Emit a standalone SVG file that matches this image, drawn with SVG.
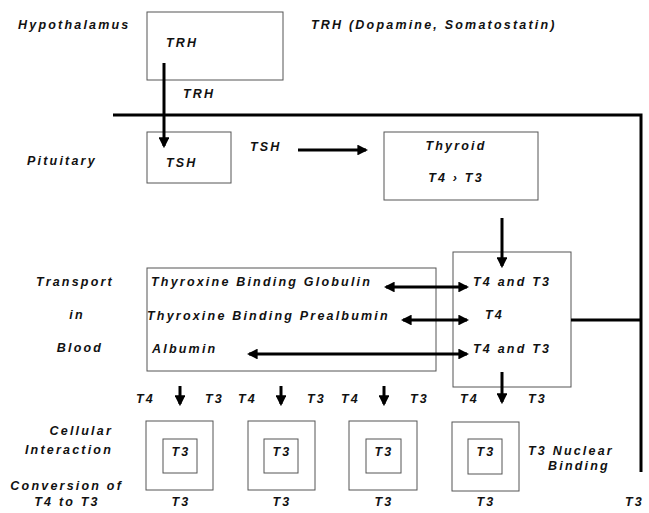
<svg xmlns="http://www.w3.org/2000/svg" width="649" height="513" viewBox="0 0 649 513">
<style>
text{font-family:"Liberation Sans",Arial,sans-serif;font-weight:bold;font-style:italic;font-size:12.5px;letter-spacing:2.2px;fill:#111}
.box{fill:none;stroke:#555;stroke-width:1}
.ln{fill:none;stroke:#000;stroke-width:3}
.ar{fill:none;stroke:#000;stroke-width:3}
.m{text-anchor:middle}
.e{text-anchor:end}
</style>
<defs>
<marker id="ah" viewBox="0 0 10 10" refX="8" refY="5" markerWidth="3.6" markerHeight="3.6" orient="auto-start-reverse"><path d="M0,0L10,5L0,10z" fill="#000"/></marker>
</defs>
<rect width="649" height="513" fill="#fff"/>
<g id="labels">
<text x="18" y="29">Hypothalamus</text>
<text x="311" y="29">TRH (Dopamine, Somatostatin)</text>
<text x="183" y="98">TRH</text>
<text x="27" y="165">Pituitary</text>
<text x="250" y="151">TSH</text>
<text x="75" y="286" class="m">Transport</text>
<text x="77" y="319" class="m">in</text>
<text x="80" y="352" class="m">Blood</text>
<text x="113" y="435" class="e">Cellular</text>
<text x="113" y="454" class="e">Interaction</text>
<text x="123" y="490" class="e">Conversion of</text>
<text x="67" y="506" class="m">T4 to T3</text>
<text x="625" y="506">T3</text>
</g>
<g id="hypothalamus"><rect class="box" x="147" y="12" width="136" height="68"/><text x="166" y="47">TRH</text></g>
<g id="pituitary"><rect class="box" x="147" y="132" width="84" height="51"/><text x="166" y="167">TSH</text></g>
<g id="thyroid"><rect class="box" x="384" y="132" width="154" height="68"/><text x="456" y="150" class="m">Thyroid</text><text x="456" y="182" class="m">T4 › T3</text></g>
<g id="binding"><rect class="box" x="147" y="268" width="289" height="103"/>
<text x="151" y="286">Thyroxine Binding Globulin</text>
<text x="147" y="320">Thyroxine Binding Prealbumin</text>
<text x="152" y="353">Albumin</text></g>
<g id="free"><rect class="box" x="453" y="252" width="118" height="135"/>
<text x="473" y="286">T4 and T3</text>
<text x="485" y="319">T4</text>
<text x="473" y="353">T4 and T3</text></g>
<g id="cell1"><rect class="box" x="146" y="421" width="67" height="69"/><rect class="box" x="163" y="439" width="34" height="34"/><text x="181" y="456" class="m">T3</text></g>
<g id="cell2"><rect class="box" x="248" y="421" width="67" height="69"/><rect class="box" x="264" y="439" width="34" height="34"/><text x="282" y="456" class="m">T3</text></g>
<g id="cell3"><rect class="box" x="349" y="421" width="68" height="69"/><rect class="box" x="366" y="439" width="35" height="34"/><text x="384" y="456" class="m">T3</text></g>
<g id="cell4"><rect class="box" x="452" y="422" width="67" height="69"/><rect class="box" x="468" y="439" width="34" height="35"/><text x="486" y="456" class="m">T3</text>
<text x="528" y="455">T3 Nuclear</text><text x="548" y="470">Binding</text></g>
<g id="rowlabels">
<text x="136" y="403">T4</text><text x="205" y="403">T3</text>
<text x="238" y="403">T4</text><text x="307" y="403">T3</text>
<text x="341" y="403">T4</text><text x="410" y="403">T3</text>
<text x="460" y="403">T4</text><text x="528" y="403">T3</text>
<text x="181" y="506" class="m">T3</text><text x="282" y="506" class="m">T3</text><text x="384" y="506" class="m">T3</text><text x="486" y="506" class="m">T3</text>
</g>
<g id="connectors">
<path class="ar" d="M164 63V146" marker-end="url(#ah)"/>
<path class="ln" d="M113 115H641V472"/>
<path class="ar" d="M298 150H366" marker-end="url(#ah)"/>
<path class="ar" d="M502 218V266" marker-end="url(#ah)"/>
<path class="ar" d="M386 287H467" marker-start="url(#ah)" marker-end="url(#ah)"/>
<path class="ar" d="M403 320H467" marker-start="url(#ah)" marker-end="url(#ah)"/>
<path class="ar" d="M249 354H467" marker-start="url(#ah)" marker-end="url(#ah)"/>
<path class="ln" d="M571 320H641"/>
<path class="ar" d="M502 372V402" marker-end="url(#ah)"/>
<path class="ar" d="M180 386V404" marker-end="url(#ah)"/>
<path class="ar" d="M281 386V404" marker-end="url(#ah)"/>
<path class="ar" d="M384 386V404" marker-end="url(#ah)"/>
</g>
</svg>
